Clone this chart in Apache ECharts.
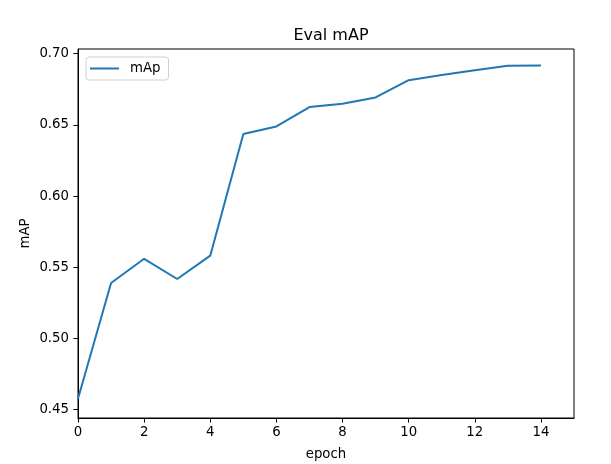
<!DOCTYPE html>
<html>
<head>
<meta charset="utf-8">
<script src="https://cdn.jsdelivr.net/npm/echarts@6/dist/echarts.min.js"></script>
<style>html,body{margin:0;padding:0;background:#fff}#c{width:611px;height:464px}</style>
</head>
<body>
<div id="c"></div>
<script>
var epochs = [0,1,2,3,4,5,6,7,8,9,10,11,12,13,14];
var mAp = [0.4577,0.5390,0.5560,0.5418,0.5582,0.6436,0.6489,0.6625,0.6648,0.6693,0.6814,0.6850,0.6883,0.6915,0.6917];
var xTicks = [0,2,4,6,8,10,12,14];
var yTicks = [0.45,0.50,0.55,0.60,0.65,0.70];

var chart = echarts.init(document.getElementById('c'), null, {renderer:'canvas'});
var font = 'DejaVu Sans';
chart.setOption({
  animation: false,
  backgroundColor: '#fff',
  title: {
    text: 'Eval mAP', left: 326, top: 23, textAlign: 'center',
    textStyle: {fontFamily: font, fontSize: 16, fontWeight: 'normal', color: '#000'}
  },
  legend: {
    data: ['mAp'], left: 86, top: 57, orient: 'vertical',
    icon: 'rect', itemWidth: 29, itemHeight: 2, itemGap: 5,
    padding: [5, 8, 5, 4],
    borderColor: '#d0d0d0', borderWidth: 1, borderRadius: 3,
    textStyle: {fontFamily: font, fontSize: 13.3, color: '#000', padding: [0, 0, 0, 6]}
  },
  grid: {left: 78, right: 37, top: 49, bottom: 46, show: true, borderColor: '#000', borderWidth: 1,
    containLabel: false, outerBoundsMode: 'none'},
  xAxis: {
    type: 'value', min: 0, max: 15,
    name: 'epoch', nameLocation: 'middle', nameGap: 30, nameMoveOverlap: false,
    nameTextStyle: {fontFamily: font, fontSize: 13.3, color: '#000'},
    axisLine: {show: true, lineStyle: {color: '#000', width: 1}},
    axisTick: {show: true, inside: false, length: 4.6, lineStyle: {color: '#000'}, customValues: xTicks},
    axisLabel: {fontFamily: font, fontSize: 13.3, color: '#000', margin: 8, customValues: xTicks},
    splitLine: {show: false}
  },
  yAxis: {
    type: 'value', min: 0.4442, max: 0.7033,
    name: 'mAP', nameLocation: 'middle', nameGap: 46, nameMoveOverlap: false,
    nameTextStyle: {fontFamily: font, fontSize: 13.3, color: '#000'},
    axisLine: {show: true, lineStyle: {color: '#000', width: 1}},
    axisTick: {show: true, inside: false, length: 4.6, lineStyle: {color: '#000'}, customValues: yTicks},
    axisLabel: {fontFamily: font, fontSize: 13.3, color: '#000', margin: 9, customValues: yTicks,
      formatter: function (v) { return v.toFixed(2); }},
    splitLine: {show: false}
  },
  series: [{
    name: 'mAp', type: 'line',
    data: epochs.map(function (e, i) { return [e, mAp[i]]; }),
    showSymbol: false, symbol: 'none',
    lineStyle: {color: '#1f77b4', width: 2},
    itemStyle: {color: '#1f77b4'}
  }]
});
</script>
</body>
</html>
